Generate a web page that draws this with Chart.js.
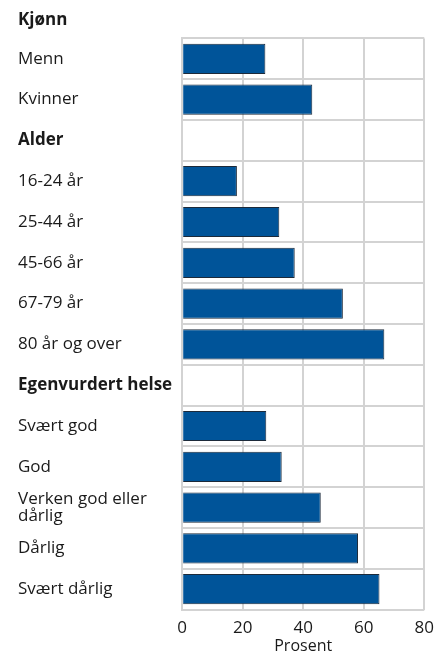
<!DOCTYPE html>
<html>
<head>
<meta charset="utf-8">
<script src="https://cdn.jsdelivr.net/npm/chart.js@4"></script>
<style>
  body { margin: 0; background: #fff; }
  #wrap { width: 434px; height: 654px; position: relative; }
</style>
</head>
<body>
<div id="wrap"><canvas id="helseChart"></canvas></div>
<script>
// kategorier og verdier (prosent)
const categories = [
    'Menn', 'Kvinner',
    'Alder', '16-24 år', '25-44 år', '45-66 år', '67-79 år', '80 år og over',
    'Egenvurdert helse', 'Svært god', 'God', ['Verken god eller', 'dårlig'], 'Dårlig', 'Svært dårlig'
];
const values = [27.5, 43, null, 18.1, 32.1, 37.2, 53.1, 66.8, null, 27.8, 32.9, 45.8, 58.1, 65.2];
const headers = ['Alder', 'Egenvurdert helse'];
const xTicks = [0, 20, 40, 60, 80];

const fontFamily = '"Open Sans", "Noto Sans", sans-serif';
const gridColor = '#d3d3d3';
const textColor = '#1a1a1a';

const ctx = document.getElementById('helseChart').getContext('2d');
const helseChart = new Chart(ctx, {
    type: 'bar',
    data: {
        labels: categories,
        datasets: [{
            data: values,
            backgroundColor: '#005499',
            borderColor: '#1c2a3a',
            borderWidth: 1,
            barPercentage: 0.74,
            categoryPercentage: 1
        }]
    },
    options: {
        indexAxis: 'y',
        responsive: true,
        maintainAspectRatio: false,
        animation: false,
        layout: { padding: { left: 18, right: 0, top: 0, bottom: 0 } },
        plugins: {
            legend: { display: false },
            tooltip: { enabled: false },
            title: {
                display: true,
                text: 'Kjønn',
                align: 'start',
                color: textColor,
                font: { family: fontFamily, size: 17, weight: 'bold' },
                padding: { top: 10, bottom: 8 }
            }
        },
        scales: {
            x: {
                min: 0,
                max: 80,
                afterBuildTicks: axis => { axis.ticks = xTicks.map(v => ({ value: v })); },
                // usynlige tick-streker gir avstand uten ekstra høyremarg
                grid: { color: gridColor, lineWidth: 2, drawTicks: true, tickLength: 8, tickColor: 'rgba(0,0,0,0)' },
                border: { display: false },
                ticks: { color: textColor, padding: 0, font: { family: fontFamily, size: 17 } },
                title: {
                    display: true,
                    text: 'Prosent',
                    color: textColor,
                    padding: { top: 0, bottom: 0 },
                    font: { family: fontFamily, size: 16, lineHeight: 1.0 }
                }
            },
            y: {
                grid: { color: gridColor, lineWidth: 2, drawTicks: false },
                border: { color: gridColor, width: 2 },
                ticks: {
                    crossAlign: 'far',
                    padding: 5,
                    color: textColor,
                    font: c => {
                        const bold = headers.includes(categories[c.index]);
                        return { family: fontFamily, size: 17, weight: bold ? 'bold' : 'normal', lineHeight: 1.0 };
                    }
                }
            }
        }
    }
});
</script>
</body>
</html>
